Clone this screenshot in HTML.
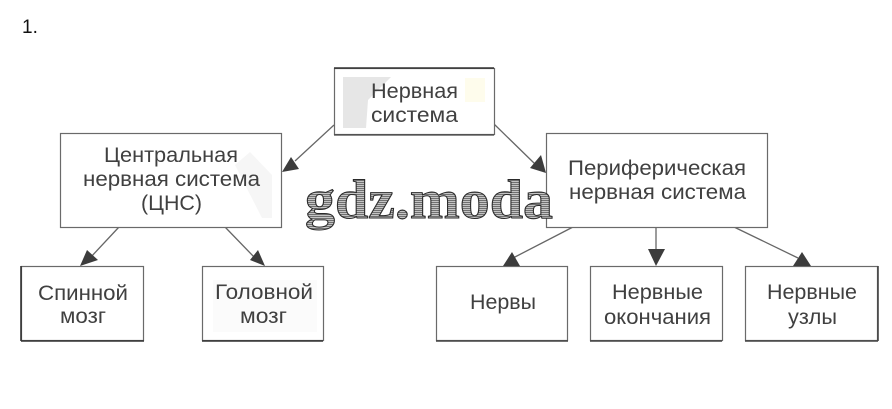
<!DOCTYPE html>
<html><head><meta charset="utf-8"><style>
html,body{margin:0;padding:0;background:#fff;width:892px;height:409px;overflow:hidden}
svg{display:block;filter:blur(.35px)}
text{font-family:"Liberation Sans",sans-serif;font-size:21px;fill:#404040;text-anchor:start}
</style></head><body>
<svg width="892" height="409" viewBox="0 0 892 409" xmlns="http://www.w3.org/2000/svg">
<defs>
<pattern id="h" width="3" height="2" patternUnits="userSpaceOnUse"><rect width="3" height="2" fill="#c4c4c4"/><rect width="3" height="1" fill="#707070"/></pattern>
</defs>
<rect width="892" height="409" fill="#fff"/>
<text x="22" y="33" style="font-size:19px;fill:#111">1.</text>

<!-- lines -->
<g stroke="#666" stroke-width="1.3" fill="none">
<line x1="334" y1="125" x2="295" y2="161"/>
<line x1="494" y1="124" x2="535" y2="164"/>
<line x1="119" y1="227" x2="90" y2="258"/>
<line x1="225" y1="227" x2="255" y2="258"/>
<line x1="573" y1="227" x2="513" y2="258"/>
<line x1="656" y1="227" x2="656" y2="250"/>
<line x1="734" y1="227" x2="798" y2="258"/>
</g>

<!-- boxes -->
<g fill="#fff" stroke="#6a6a6a" stroke-width="1.2">
<rect x="334.5" y="68.5" width="160" height="66"/>
<rect x="60.5" y="133.5" width="221" height="94"/>
<rect x="546.5" y="133.5" width="221" height="94"/>
<rect x="21.5" y="266.5" width="122" height="74"/>
<rect x="202.5" y="266.5" width="121" height="74"/>
<rect x="436.5" y="266.5" width="131" height="74"/>
<rect x="590.5" y="266.5" width="132" height="74"/>
<rect x="745.5" y="266.5" width="132" height="74"/>
</g>
<line x1="334" y1="68" x2="494" y2="68" stroke="#333" stroke-width="1.6"/>
<line x1="334" y1="135" x2="494" y2="135" stroke="#444" stroke-width="1.2"/>
<line x1="21" y1="266" x2="21" y2="341" stroke="#333" stroke-width="1.6"/>
<line x1="21" y1="341" x2="144" y2="341" stroke="#333" stroke-width="1.4"/>
<line x1="202" y1="341" x2="323" y2="341" stroke="#333" stroke-width="1.4"/>
<line x1="436" y1="341" x2="568" y2="341" stroke="#444" stroke-width="1.4"/>
<line x1="590" y1="341" x2="722" y2="341" stroke="#444" stroke-width="1.4"/>
<line x1="745" y1="341" x2="878" y2="341" stroke="#444" stroke-width="1.4"/>
<line x1="878" y1="266" x2="878" y2="341" stroke="#444" stroke-width="1.6"/>

<!-- faint marks -->
<path d="M343 77H391L368 100 366 128H343Z" fill="#e6e6e6"/>
<rect x="465" y="78" width="20" height="24" fill="#fefcec"/>
<path d="M235 165 250 152 272 175V218H262Z" fill="#f6f6f6"/>
<rect x="213" y="280" width="104" height="52" fill="#fbfbfb"/>

<!-- arrowheads -->
<g fill="#3c3c3c">
<polygon points="282,172 291,157 299,169"/>
<polygon points="546,173 530,168 541,155"/>
<polygon points="80,266 87,250 98,260"/>
<polygon points="265,266 250,260 258,250"/>
<polygon points="503,266 512,252 520,266"/>
<polygon points="648,249 665,249 656,266"/>
<polygon points="811,266 793,266 802,252"/>
</g>

<!-- labels -->
<text x="371" y="98" textLength="87" lengthAdjust="spacingAndGlyphs">Нервная</text>
<text x="371" y="122" textLength="87" lengthAdjust="spacingAndGlyphs">система</text>
<text x="104" y="162" textLength="134" lengthAdjust="spacingAndGlyphs">Центральная</text>
<text x="83" y="186" textLength="177" lengthAdjust="spacingAndGlyphs">нервная система</text>
<text x="141" y="210" textLength="61" lengthAdjust="spacingAndGlyphs">(ЦНС)</text>
<text x="568" y="175" textLength="178" lengthAdjust="spacingAndGlyphs">Периферическая</text>
<text x="569" y="199" textLength="177" lengthAdjust="spacingAndGlyphs">нервная система</text>
<text x="38" y="300" textLength="90" lengthAdjust="spacingAndGlyphs">Спинной</text>
<text x="60" y="323" textLength="46" lengthAdjust="spacingAndGlyphs">мозг</text>
<text x="215" y="299" textLength="98" lengthAdjust="spacingAndGlyphs">Головной</text>
<text x="240" y="323" textLength="47" lengthAdjust="spacingAndGlyphs">мозг</text>
<text x="470" y="309" textLength="66" lengthAdjust="spacingAndGlyphs">Нервы</text>
<text x="612" y="299" textLength="91" lengthAdjust="spacingAndGlyphs">Нервные</text>
<text x="604" y="324" textLength="107" lengthAdjust="spacingAndGlyphs">окончания</text>
<text x="767" y="299" textLength="90" lengthAdjust="spacingAndGlyphs">Нервные</text>
<text x="788" y="324" textLength="49" lengthAdjust="spacingAndGlyphs">узлы</text>

<!-- watermark -->
<text x="305" y="218" textLength="248" lengthAdjust="spacingAndGlyphs" style="font-family:'Liberation Serif',serif;font-weight:bold;font-size:55px;fill:url(#h);stroke:#2a2a2a;stroke-width:1">gdz.moda</text>
</svg>
</body></html>
